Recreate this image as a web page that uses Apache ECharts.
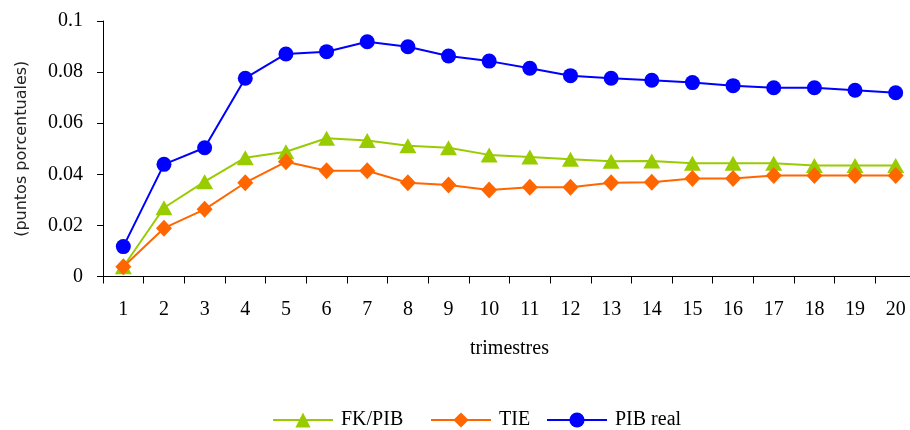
<!DOCTYPE html>
<html>
<head>
<meta charset="utf-8">
<script src="https://cdn.jsdelivr.net/npm/echarts@6/dist/echarts.min.js"></script>
<style>
html,body{margin:0;padding:0;background:#fff;}
#c{width:910px;height:430px;}
</style>
</head>
<body>
<div id="c"></div>
<script>
var categories = ['1','2','3','4','5','6','7','8','9','10','11','12','13','14','15','16','17','18','19','20'];
var fkPib = [0.0038,0.0269,0.0371,0.0465,0.0488,0.0541,0.0532,0.0512,0.0504,0.0476,0.0468,0.0459,0.0451,0.0452,0.0443,0.0443,0.0443,0.0434,0.0434,0.0434];
var tie = [0.0038,0.0189,0.0263,0.0367,0.0449,0.0414,0.0414,0.0367,0.0358,0.0339,0.0349,0.0349,0.0367,0.0369,0.0384,0.0384,0.0395,0.0395,0.0395,0.0395];
var pibReal = [0.0117,0.0439,0.0504,0.0776,0.0871,0.0880,0.0919,0.0899,0.0863,0.0843,0.0815,0.0786,0.0776,0.0768,0.0759,0.0747,0.0739,0.0739,0.0729,0.0719];
var yTicks = [0, 0.02, 0.04, 0.06, 0.08, 0.1];
var seriesNames = ['FK/PIB', 'TIE', 'PIB real'];

var serif = 'Liberation Serif';
var legendLefts = [272, 430, 546];
function mkLegend(i) {
  return {
    left: legendLefts[i], top: 410, padding: 0,
    itemWidth: 60, itemHeight: 19, itemGap: 0,
    textStyle: { fontFamily: serif, fontSize: 20, color: '#000', padding: [0, 0, 0, 3] },
    data: [seriesNames[i]]
  };
}
var chart = echarts.init(document.getElementById('c'));
chart.setOption({
  animation: false,
  backgroundColor: '#ffffff',
  grid: { left: 103, right: -6, top: 21, bottom: 153.5, containLabel: false, outerBoundsMode: 'none' },
  legend: [mkLegend(0), mkLegend(1), mkLegend(2)],
  xAxis: {
    type: 'category',
    data: categories,
    boundaryGap: true,
    name: 'trimestres',
    nameLocation: 'middle',
    nameGap: 62,
    nameTextStyle: { fontFamily: serif, fontSize: 20, color: '#000' },
    axisLine: { lineStyle: { color: '#000', width: 1 } },
    axisTick: { show: true, length: 7, lineStyle: { color: '#000' } },
    axisLabel: { fontFamily: serif, fontSize: 20, color: '#000', margin: 23 },
    splitLine: { show: false }
  },
  yAxis: {
    type: 'value',
    min: yTicks[0], max: yTicks[yTicks.length - 1], interval: 0.02,
    name: '(puntos porcentuales)',
    nameLocation: 'middle',
    nameRotate: 90,
    nameGap: 73,
    nameTextStyle: { fontFamily: 'DejaVu Sans', fontSize: 16, color: '#222' },
    axisLine: { show: true, lineStyle: { color: '#000', width: 1 } },
    axisTick: { show: true, length: 6, lineStyle: { color: '#000' } },
    axisLabel: {
      fontFamily: serif, fontSize: 20, color: '#000', margin: 20,
      formatter: function (v) { return v === 0 ? '0' : String(+v.toFixed(2)); }
    },
    splitLine: { show: false }
  },
  series: [
    {
      name: seriesNames[0], type: 'line', data: fkPib,
      symbol: 'triangle', symbolSize: [17, 15],
      itemStyle: { color: '#99CC00' },
      lineStyle: { color: '#99CC00', width: 2 }
    },
    {
      name: seriesNames[1], type: 'line', data: tie,
      symbol: 'diamond', symbolSize: [16, 17],
      itemStyle: { color: '#FF6600' },
      lineStyle: { color: '#FF6600', width: 2 }
    },
    {
      name: seriesNames[2], type: 'line', data: pibReal,
      symbol: 'circle', symbolSize: 15,
      itemStyle: { color: '#0000FF' },
      lineStyle: { color: '#0000FF', width: 2 }
    }
  ]
});
</script>
</body>
</html>
